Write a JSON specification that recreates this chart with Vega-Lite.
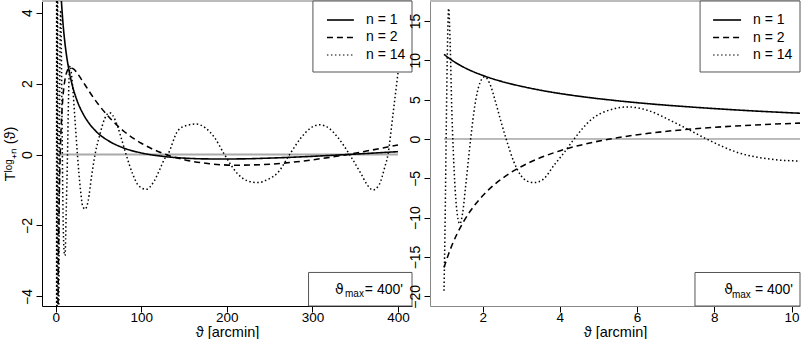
{
  "$schema": "https://vega.github.io/schema/vega-lite/v6.json",
  "padding": {"left": 2, "top": 0, "right": 0, "bottom": 0},
  "background": "white",
  "config": {
    "view": {"stroke": null},
    "font": "Liberation Sans",
    "axis": {"domainColor": "#000", "tickColor": "#000", "labelColor": "#000", "titleColor": "#000", "labelFontSize": 14, "titleFontSize": 14.5, "titleFontWeight": "normal", "tickSize": 6, "labelPadding": 2, "grid": false, "labelFlush": false, "labelOverlap": false, "domainWidth": 1, "tickWidth": 1},
    "axisY": {"labelAngle": 270, "labelAlign": "center", "labelBaseline": "bottom"},
    "axisX": {"titlePadding": 2, "labelPadding": -2, "labelFontSize": 13.5, "labelBaseline": "top"},
    "text": {"fontSize": 14, "color": "black"}
  },
  "datasets": {
    "curves": [
      {"x": 1, "y": 10.77, "n": "n = 1"}, {"x": 1.1, "y": 10.38, "n": "n = 1"}, {"x": 1.2, "y": 10.03, "n": "n = 1"}, {"x": 1.35, "y": 9.56, "n": "n = 1"}, {"x": 1.5, "y": 9.15, "n": "n = 1"}, {"x": 1.7, "y": 8.68, "n": "n = 1"}, {"x": 2, "y": 8.09, "n": "n = 1"}, {"x": 2.3, "y": 7.59, "n": "n = 1"}, {"x": 2.7, "y": 7.05, "n": "n = 1"}, {"x": 3.2, "y": 6.49, "n": "n = 1"}, {"x": 3.8, "y": 5.94, "n": "n = 1"}, {"x": 4.5, "y": 5.43, "n": "n = 1"}, {"x": 5.3, "y": 4.96, "n": "n = 1"}, {"x": 6.3, "y": 4.48, "n": "n = 1"}, {"x": 7.5, "y": 4.03, "n": "n = 1"}, {"x": 9, "y": 3.57, "n": "n = 1"}, {"x": 10.5, "y": 3.21, "n": "n = 1"}, {"x": 13, "y": 2.74, "n": "n = 1"}, {"x": 16, "y": 2.32, "n": "n = 1"}, {"x": 20, "y": 1.9, "n": "n = 1"}, {"x": 25, "y": 1.52, "n": "n = 1"}, {"x": 32, "y": 1.15, "n": "n = 1"}, {"x": 40, "y": 0.85, "n": "n = 1"}, {"x": 50, "y": 0.59, "n": "n = 1"}, {"x": 63, "y": 0.37, "n": "n = 1"}, {"x": 80, "y": 0.18, "n": "n = 1"}, {"x": 100, "y": 0.046, "n": "n = 1"}, {"x": 125, "y": -0.05, "n": "n = 1"}, {"x": 150, "y": -0.1, "n": "n = 1"}, {"x": 180, "y": -0.123, "n": "n = 1"}, {"x": 210, "y": -0.123, "n": "n = 1"}, {"x": 250, "y": -0.1, "n": "n = 1"}, {"x": 290, "y": -0.061, "n": "n = 1"}, {"x": 330, "y": -0.013, "n": "n = 1"}, {"x": 370, "y": 0.04, "n": "n = 1"}, {"x": 400, "y": 0.082, "n": "n = 1"},
      {"x": 1, "y": -16.35, "n": "n = 2"}, {"x": 1.1, "y": -14.87, "n": "n = 2"}, {"x": 1.2, "y": -13.58, "n": "n = 2"}, {"x": 1.35, "y": -11.93, "n": "n = 2"}, {"x": 1.5, "y": -10.56, "n": "n = 2"}, {"x": 1.7, "y": -9.03, "n": "n = 2"}, {"x": 2, "y": -7.22, "n": "n = 2"}, {"x": 2.3, "y": -5.81, "n": "n = 2"}, {"x": 2.7, "y": -4.37, "n": "n = 2"}, {"x": 3.2, "y": -3.01, "n": "n = 2"}, {"x": 3.8, "y": -1.83, "n": "n = 2"}, {"x": 4.5, "y": -0.82, "n": "n = 2"}, {"x": 5.3, "y": 0.0, "n": "n = 2"}, {"x": 6.3, "y": 0.72, "n": "n = 2"}, {"x": 7.5, "y": 1.3, "n": "n = 2"}, {"x": 9, "y": 1.77, "n": "n = 2"}, {"x": 10.5, "y": 2.06, "n": "n = 2"}, {"x": 13, "y": 2.33, "n": "n = 2"}, {"x": 16, "y": 2.44, "n": "n = 2"}, {"x": 20, "y": 2.43, "n": "n = 2"}, {"x": 25, "y": 2.3, "n": "n = 2"}, {"x": 32, "y": 2.05, "n": "n = 2"}, {"x": 40, "y": 1.75, "n": "n = 2"}, {"x": 50, "y": 1.41, "n": "n = 2"}, {"x": 63, "y": 1.04, "n": "n = 2"}, {"x": 80, "y": 0.65, "n": "n = 2"}, {"x": 100, "y": 0.32, "n": "n = 2"}, {"x": 125, "y": 0.035, "n": "n = 2"}, {"x": 150, "y": -0.143, "n": "n = 2"}, {"x": 180, "y": -0.259, "n": "n = 2"}, {"x": 210, "y": -0.299, "n": "n = 2"}, {"x": 250, "y": -0.272, "n": "n = 2"}, {"x": 290, "y": -0.18, "n": "n = 2"}, {"x": 330, "y": -0.041, "n": "n = 2"}, {"x": 370, "y": 0.129, "n": "n = 2"}, {"x": 400, "y": 0.273, "n": "n = 2"},
      {"x": 1, "y": -19.3, "n": "n = 14"}, {"x": 1.03, "y": -10, "n": "n = 14"}, {"x": 1.06, "y": 2, "n": "n = 14"}, {"x": 1.09, "y": 12, "n": "n = 14"}, {"x": 1.12, "y": 16.6, "n": "n = 14"}, {"x": 1.16, "y": 12, "n": "n = 14"}, {"x": 1.2, "y": 4, "n": "n = 14"}, {"x": 1.24, "y": -1.5, "n": "n = 14"}, {"x": 1.29, "y": -6.5, "n": "n = 14"}, {"x": 1.35, "y": -9.8, "n": "n = 14"}, {"x": 1.41, "y": -10.8, "n": "n = 14"}, {"x": 1.48, "y": -9.5, "n": "n = 14"}, {"x": 1.56, "y": -6, "n": "n = 14"}, {"x": 1.69, "y": 0, "n": "n = 14"}, {"x": 1.8, "y": 4.3, "n": "n = 14"}, {"x": 1.92, "y": 7, "n": "n = 14"}, {"x": 2.05, "y": 7.9, "n": "n = 14"}, {"x": 2.18, "y": 7.1, "n": "n = 14"}, {"x": 2.33, "y": 4.8, "n": "n = 14"}, {"x": 2.47, "y": 2.3, "n": "n = 14"}, {"x": 2.61, "y": 0, "n": "n = 14"}, {"x": 2.8, "y": -2.8, "n": "n = 14"}, {"x": 3.0, "y": -4.7, "n": "n = 14"}, {"x": 3.15, "y": -5.35, "n": "n = 14"}, {"x": 3.33, "y": -5.55, "n": "n = 14"}, {"x": 3.55, "y": -5.2, "n": "n = 14"}, {"x": 3.87, "y": -3.2, "n": "n = 14"}, {"x": 4.1, "y": -1.8, "n": "n = 14"}, {"x": 4.37, "y": 0, "n": "n = 14"}, {"x": 4.82, "y": 2.5, "n": "n = 14"}, {"x": 5.3, "y": 3.7, "n": "n = 14"}, {"x": 5.77, "y": 4.07, "n": "n = 14"}, {"x": 6.3, "y": 3.6, "n": "n = 14"}, {"x": 6.89, "y": 2.29, "n": "n = 14"}, {"x": 7.32, "y": 1.23, "n": "n = 14"}, {"x": 7.8, "y": 0, "n": "n = 14"}, {"x": 8.62, "y": -1.74, "n": "n = 14"}, {"x": 9.48, "y": -2.58, "n": "n = 14"}, {"x": 10.2, "y": -2.8, "n": "n = 14"}, {"x": 10.9, "y": -2.85, "n": "n = 14"}, {"x": 12.3, "y": -1.6, "n": "n = 14"}, {"x": 13.8, "y": 0, "n": "n = 14"}, {"x": 15.3, "y": 1.9, "n": "n = 14"}, {"x": 16.8, "y": 2.5, "n": "n = 14"}, {"x": 19.5, "y": 2.0, "n": "n = 14"}, {"x": 22.5, "y": 1.0, "n": "n = 14"}, {"x": 25.4, "y": 0, "n": "n = 14"}, {"x": 29, "y": -1.0, "n": "n = 14"}, {"x": 31.5, "y": -1.45, "n": "n = 14"}, {"x": 34.3, "y": -1.54, "n": "n = 14"}, {"x": 38, "y": -1.3, "n": "n = 14"}, {"x": 42, "y": -0.6, "n": "n = 14"}, {"x": 46, "y": 0, "n": "n = 14"}, {"x": 51.8, "y": 0.58, "n": "n = 14"}, {"x": 57, "y": 1.0, "n": "n = 14"}, {"x": 63, "y": 1.18, "n": "n = 14"}, {"x": 70, "y": 0.95, "n": "n = 14"}, {"x": 76.4, "y": 0.48, "n": "n = 14"}, {"x": 82.3, "y": 0, "n": "n = 14"}, {"x": 90, "y": -0.55, "n": "n = 14"}, {"x": 97, "y": -0.88, "n": "n = 14"}, {"x": 105.6, "y": -0.98, "n": "n = 14"}, {"x": 115, "y": -0.75, "n": "n = 14"}, {"x": 122, "y": -0.4, "n": "n = 14"}, {"x": 127, "y": -0.13, "n": "n = 14"}, {"x": 131, "y": 0, "n": "n = 14"}, {"x": 142.7, "y": 0.67, "n": "n = 14"}, {"x": 153, "y": 0.82, "n": "n = 14"}, {"x": 164, "y": 0.86, "n": "n = 14"}, {"x": 175, "y": 0.75, "n": "n = 14"}, {"x": 185.6, "y": 0.48, "n": "n = 14"}, {"x": 197.3, "y": 0, "n": "n = 14"}, {"x": 212.9, "y": -0.55, "n": "n = 14"}, {"x": 224, "y": -0.74, "n": "n = 14"}, {"x": 236.3, "y": -0.79, "n": "n = 14"}, {"x": 248, "y": -0.7, "n": "n = 14"}, {"x": 259.6, "y": -0.51, "n": "n = 14"}, {"x": 273.3, "y": 0, "n": "n = 14"}, {"x": 287, "y": 0.48, "n": "n = 14"}, {"x": 298, "y": 0.75, "n": "n = 14"}, {"x": 308.4, "y": 0.84, "n": "n = 14"}, {"x": 319, "y": 0.75, "n": "n = 14"}, {"x": 329.8, "y": 0.48, "n": "n = 14"}, {"x": 343.5, "y": 0, "n": "n = 14"}, {"x": 357, "y": -0.55, "n": "n = 14"}, {"x": 364, "y": -0.85, "n": "n = 14"}, {"x": 370.8, "y": -1.0, "n": "n = 14"}, {"x": 378, "y": -0.85, "n": "n = 14"}, {"x": 384.4, "y": -0.37, "n": "n = 14"}, {"x": 388.3, "y": 0, "n": "n = 14"}, {"x": 394.2, "y": 1.14, "n": "n = 14"}, {"x": 400, "y": 2.3, "n": "n = 14"}
    ]
  },
  "spacing": 18,
  "bounds": "flush",
  "resolve": {"scale": {"x": "independent", "y": "independent"}},
  "hconcat": [
    {
      "width": 370,
      "height": 305,
      "layer": [
        {
          "data": {"values": [{}]},
          "mark": {"type": "rule", "color": "#bbbbbb", "strokeWidth": 2},
          "encoding": {
            "x": {"datum": -16, "type": "quantitative", "title": "ϑ [arcmin]"},
            "x2": {"datum": 416.4},
            "y": {"datum": 4.33, "type": "quantitative", "title": "Tˡᵒᵍ₊ₙ (ϑ)"}
          }
        },
        {
          "data": {"values": [{}]},
          "mark": {"type": "rule", "color": "#aaaaaa", "strokeWidth": 2, "clip": true},
          "encoding": {
            "x": {"datum": 1, "type": "quantitative", "title": "ϑ [arcmin]"},
            "x2": {"datum": 400},
            "y": {"datum": 0, "type": "quantitative", "title": "Tˡᵒᵍ₊ₙ (ϑ)"}
          }
        },
        {
          "data": {"name": "curves"},
          "mark": {"type": "line", "clip": true, "interpolate": "monotone", "color": "black"},
          "encoding": {
            "x": {"field": "x", "type": "quantitative", "title": "ϑ [arcmin]", "scale": {"domain": [-16, 416.4], "nice": false, "zero": false}, "axis": {"values": [0, 100, 200, 300, 400]}},
            "y": {"field": "y", "type": "quantitative", "title": "Tˡᵒᵍ₊ₙ (ϑ)", "scale": {"domain": [-4.27, 4.33], "nice": false, "zero": false}, "axis": {"values": [-4, -2, 0, 2, 4], "titlePadding": 3}},
            "strokeDash": {"field": "n", "type": "nominal", "scale": {"domain": ["n = 1", "n = 2", "n = 14"], "range": [[1, 0], [6, 4], [1.5, 2.5]]}, "legend": null},
            "strokeWidth": {"field": "n", "type": "nominal", "scale": {"domain": ["n = 1", "n = 2", "n = 14"], "range": [1.6, 1.5, 1.1]}, "legend": null}
          }
        },
        {
          "data": {"values": [{}]},
          "mark": {"type": "rect", "fill": "white", "stroke": "#555555", "strokeWidth": 1},
          "encoding": {
            "x": {"datum": 300.6, "type": "quantitative", "title": "ϑ [arcmin]"}, "x2": {"datum": 416.4},
            "y": {"datum": 4.33, "type": "quantitative", "title": "Tˡᵒᵍ₊ₙ (ϑ)"}, "y2": {"datum": 2.328}
          }
        },
        {
          "data": {"values": [{}]},
          "mark": {"type": "rule", "color": "black", "strokeWidth": 1.6},
          "encoding": {"x": {"datum": 317, "type": "quantitative", "title": "ϑ [arcmin]"}, "x2": {"datum": 348.5}, "y": {"datum": 3.794, "type": "quantitative", "title": "Tˡᵒᵍ₊ₙ (ϑ)"}}
        },
        {
          "data": {"values": [{}]},
          "mark": {"type": "rule", "color": "black", "strokeWidth": 1.5, "strokeDash": [6, 4]},
          "encoding": {"x": {"datum": 317, "type": "quantitative", "title": "ϑ [arcmin]"}, "x2": {"datum": 348.5}, "y": {"datum": 3.301, "type": "quantitative", "title": "Tˡᵒᵍ₊ₙ (ϑ)"}}
        },
        {
          "data": {"values": [{}]},
          "mark": {"type": "rule", "color": "black", "strokeWidth": 1.1, "strokeDash": [1.5, 2.5]},
          "encoding": {"x": {"datum": 317, "type": "quantitative", "title": "ϑ [arcmin]"}, "x2": {"datum": 348.5}, "y": {"datum": 2.808, "type": "quantitative", "title": "Tˡᵒᵍ₊ₙ (ϑ)"}}
        },
        {
          "data": {"values": [{"label": "n = 1"}]},
          "mark": {"type": "text", "align": "left", "baseline": "middle"},
          "encoding": {"text": {"field": "label"}, "x": {"datum": 362.6, "type": "quantitative", "title": "ϑ [arcmin]"}, "y": {"datum": 3.794, "type": "quantitative", "title": "Tˡᵒᵍ₊ₙ (ϑ)"}}
        },
        {
          "data": {"values": [{"label": "n = 2"}]},
          "mark": {"type": "text", "align": "left", "baseline": "middle"},
          "encoding": {"text": {"field": "label"}, "x": {"datum": 362.6, "type": "quantitative", "title": "ϑ [arcmin]"}, "y": {"datum": 3.301, "type": "quantitative", "title": "Tˡᵒᵍ₊ₙ (ϑ)"}}
        },
        {
          "data": {"values": [{"label": "n = 14"}]},
          "mark": {"type": "text", "align": "left", "baseline": "middle"},
          "encoding": {"text": {"field": "label"}, "x": {"datum": 362.6, "type": "quantitative", "title": "ϑ [arcmin]"}, "y": {"datum": 2.808, "type": "quantitative", "title": "Tˡᵒᵍ₊ₙ (ϑ)"}}
        },
        {
          "data": {"values": [{}]},
          "mark": {"type": "rect", "fill": "white", "stroke": "#555555", "strokeWidth": 1},
          "encoding": {
            "x": {"datum": 295.5, "type": "quantitative", "title": "ϑ [arcmin]"}, "x2": {"datum": 416.4},
            "y": {"datum": -3.324, "type": "quantitative", "title": "Tˡᵒᵍ₊ₙ (ϑ)"}, "y2": {"datum": -4.27}
          }
        },
        {
          "data": {"values": [{"label": "ϑ"}]},
          "mark": {"type": "text", "align": "right", "baseline": "alphabetic", "font": "DejaVu Sans"},
          "encoding": {"text": {"field": "label"}, "x": {"datum": 336.5, "type": "quantitative", "title": "ϑ [arcmin]"}, "y": {"datum": -3.938, "type": "quantitative", "title": "Tˡᵒᵍ₊ₙ (ϑ)"}}
        },
        {
          "data": {"values": [{"label": "max"}]},
          "mark": {"type": "text", "align": "right", "baseline": "alphabetic", "fontSize": 10},
          "encoding": {"text": {"field": "label"}, "x": {"datum": 360.2, "type": "quantitative", "title": "ϑ [arcmin]"}, "y": {"datum": -4.028, "type": "quantitative", "title": "Tˡᵒᵍ₊ₙ (ϑ)"}}
        },
        {
          "data": {"values": [{"label": "= 400'"}]},
          "mark": {"type": "text", "align": "right", "baseline": "alphabetic"},
          "encoding": {"text": {"field": "label"}, "x": {"datum": 405.8, "type": "quantitative", "title": "ϑ [arcmin]"}, "y": {"datum": -3.938, "type": "quantitative", "title": "Tˡᵒᵍ₊ₙ (ϑ)"}}
        }
      ]
    },
    {
      "width": 370,
      "height": 305,
      "layer": [
        {
          "data": {"values": [{}]},
          "mark": {"type": "rule", "color": "#bbbbbb", "strokeWidth": 2},
          "encoding": {
            "x": {"datum": 0.637, "type": "quantitative", "title": "ϑ [arcmin]"},
            "x2": {"datum": 10.22},
            "y": {"datum": 17.54, "type": "quantitative", "title": null}
          }
        },
        {
          "data": {"values": [{}]},
          "mark": {"type": "rule", "color": "#777777", "strokeWidth": 1, "clip": true},
          "encoding": {
            "x": {"datum": 1, "type": "quantitative", "title": "ϑ [arcmin]"},
            "x2": {"datum": 400},
            "y": {"datum": 0, "type": "quantitative", "title": null}
          }
        },
        {
          "data": {"name": "curves"},
          "mark": {"type": "line", "clip": true, "interpolate": "monotone", "color": "black"},
          "encoding": {
            "x": {"field": "x", "type": "quantitative", "title": "ϑ [arcmin]", "scale": {"domain": [0.637, 10.22], "nice": false, "zero": false}, "axis": {"values": [2, 4, 6, 8, 10], "domainColor": "#888888"}},
            "y": {"field": "y", "type": "quantitative", "title": null, "scale": {"domain": [-21.23, 17.54], "nice": false, "zero": false}, "axis": {"values": [-20, -15, -10, -5, 0, 5, 10, 15], "domainColor": "#888888"}},
            "strokeDash": {"field": "n", "type": "nominal", "scale": {"domain": ["n = 1", "n = 2", "n = 14"], "range": [[1, 0], [6, 4], [1.5, 2.5]]}, "legend": null},
            "strokeWidth": {"field": "n", "type": "nominal", "scale": {"domain": ["n = 1", "n = 2", "n = 14"], "range": [1.6, 1.5, 1.1]}, "legend": null}
          }
        },
        {
          "data": {"values": [{}]},
          "mark": {"type": "rect", "fill": "white", "stroke": "#555555", "strokeWidth": 1},
          "encoding": {
            "x": {"datum": 7.632, "type": "quantitative", "title": "ϑ [arcmin]"}, "x2": {"datum": 10.22},
            "y": {"datum": 17.54, "type": "quantitative", "title": null}, "y2": {"datum": 8.515}
          }
        },
        {
          "data": {"values": [{}]},
          "mark": {"type": "rule", "color": "black", "strokeWidth": 1.6},
          "encoding": {"x": {"datum": 7.969, "type": "quantitative", "title": "ϑ [arcmin]"}, "x2": {"datum": 8.694}, "y": {"datum": 15.125, "type": "quantitative", "title": null}}
        },
        {
          "data": {"values": [{}]},
          "mark": {"type": "rule", "color": "black", "strokeWidth": 1.5, "strokeDash": [6, 4]},
          "encoding": {"x": {"datum": 7.969, "type": "quantitative", "title": "ϑ [arcmin]"}, "x2": {"datum": 8.694}, "y": {"datum": 12.9, "type": "quantitative", "title": null}}
        },
        {
          "data": {"values": [{}]},
          "mark": {"type": "rule", "color": "black", "strokeWidth": 1.1, "strokeDash": [1.5, 2.5]},
          "encoding": {"x": {"datum": 7.969, "type": "quantitative", "title": "ϑ [arcmin]"}, "x2": {"datum": 8.694}, "y": {"datum": 10.676, "type": "quantitative", "title": null}}
        },
        {
          "data": {"values": [{"label": "n = 1"}]},
          "mark": {"type": "text", "align": "left", "baseline": "middle"},
          "encoding": {"text": {"field": "label"}, "x": {"datum": 9.005, "type": "quantitative", "title": "ϑ [arcmin]"}, "y": {"datum": 15.125, "type": "quantitative", "title": null}}
        },
        {
          "data": {"values": [{"label": "n = 2"}]},
          "mark": {"type": "text", "align": "left", "baseline": "middle"},
          "encoding": {"text": {"field": "label"}, "x": {"datum": 9.005, "type": "quantitative", "title": "ϑ [arcmin]"}, "y": {"datum": 12.9, "type": "quantitative", "title": null}}
        },
        {
          "data": {"values": [{"label": "n = 14"}]},
          "mark": {"type": "text", "align": "left", "baseline": "middle"},
          "encoding": {"text": {"field": "label"}, "x": {"datum": 9.005, "type": "quantitative", "title": "ϑ [arcmin]"}, "y": {"datum": 10.676, "type": "quantitative", "title": null}}
        },
        {
          "data": {"values": [{}]},
          "mark": {"type": "rect", "fill": "white", "stroke": "#555555", "strokeWidth": 1},
          "encoding": {
            "x": {"datum": 7.5, "type": "quantitative", "title": "ϑ [arcmin]"}, "x2": {"datum": 10.22},
            "y": {"datum": -16.97, "type": "quantitative", "title": null}, "y2": {"datum": -21.23}
          }
        },
        {
          "data": {"values": [{"label": "ϑ"}]},
          "mark": {"type": "text", "align": "right", "baseline": "alphabetic", "font": "DejaVu Sans"},
          "encoding": {"text": {"field": "label"}, "x": {"datum": 8.48, "type": "quantitative", "title": "ϑ [arcmin]"}, "y": {"datum": -19.67, "type": "quantitative", "title": null}}
        },
        {
          "data": {"values": [{"label": "max"}]},
          "mark": {"type": "text", "align": "right", "baseline": "alphabetic", "fontSize": 10},
          "encoding": {"text": {"field": "label"}, "x": {"datum": 8.946, "type": "quantitative", "title": "ϑ [arcmin]"}, "y": {"datum": -20.17, "type": "quantitative", "title": null}}
        },
        {
          "data": {"values": [{"label": "= 400'"}]},
          "mark": {"type": "text", "align": "right", "baseline": "alphabetic"},
          "encoding": {"text": {"field": "label"}, "x": {"datum": 10.04, "type": "quantitative", "title": "ϑ [arcmin]"}, "y": {"datum": -19.67, "type": "quantitative", "title": null}}
        }
      ]
    }
  ]
}
